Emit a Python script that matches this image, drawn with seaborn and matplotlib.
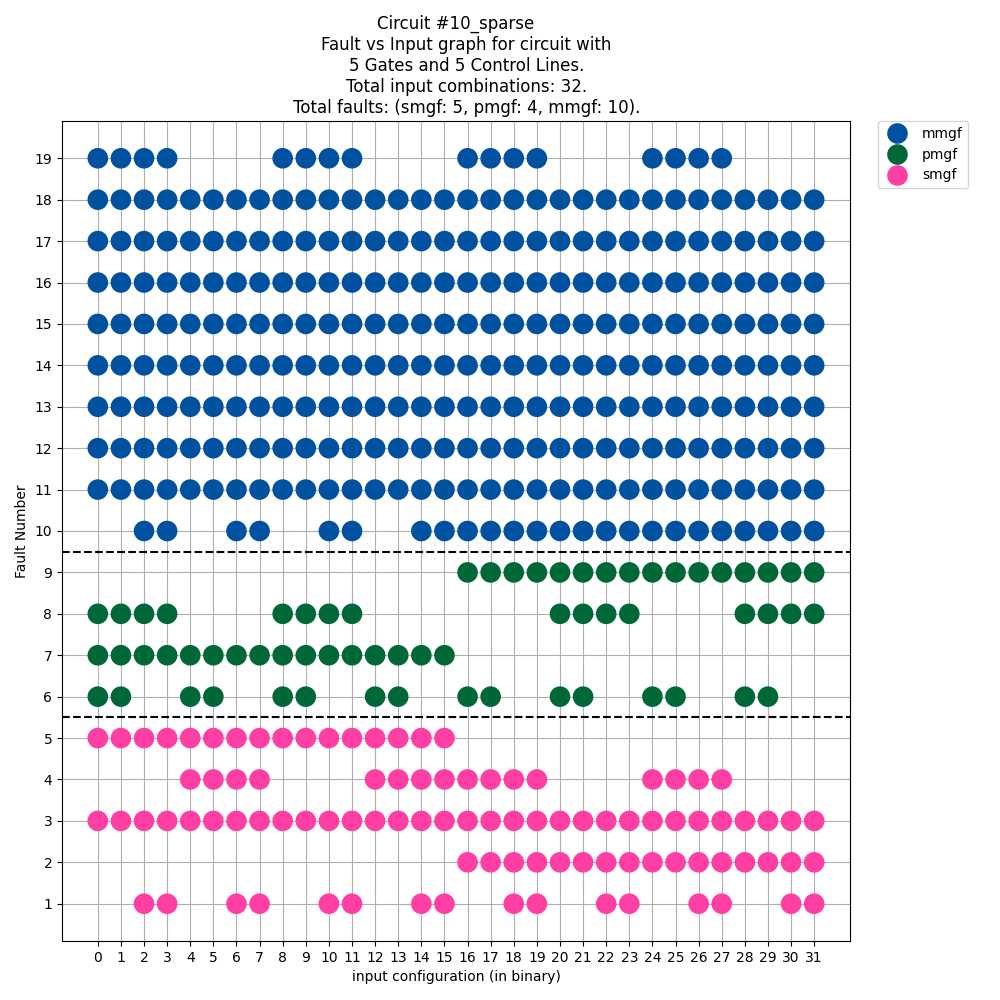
import matplotlib
matplotlib.use("Agg")
import matplotlib.pyplot as plt
import pandas as pd
import seaborn as sns

# fault number -> input configurations where the fault is detected
mmgf_faults = {
    19: [0, 1, 2, 3, 8, 9, 10, 11, 16, 17, 18, 19, 24, 25, 26, 27],
    18: list(range(32)),
    17: list(range(32)),
    16: list(range(32)),
    15: list(range(32)),
    14: list(range(32)),
    13: list(range(32)),
    12: list(range(32)),
    11: list(range(32)),
    10: [2, 3, 6, 7, 10, 11] + list(range(14, 32)),
}
pmgf_faults = {
    9: list(range(16, 32)),
    8: [0, 1, 2, 3, 8, 9, 10, 11, 20, 21, 22, 23, 28, 29, 30, 31],
    7: list(range(16)),
    6: [0, 1, 4, 5, 8, 9, 12, 13, 16, 17, 20, 21, 24, 25, 28, 29],
}
smgf_faults = {
    5: list(range(16)),
    4: [4, 5, 6, 7, 12, 13, 14, 15, 16, 17, 18, 19, 24, 25, 26, 27],
    3: list(range(32)),
    2: list(range(16, 32)),
    1: [2, 3, 6, 7, 10, 11, 14, 15, 18, 19, 22, 23, 26, 27, 30, 31],
}
fault_types = ["mmgf", "pmgf", "smgf"]
type_colors = ["#0051A0", "#006837", "#FF3FA4"]
separators = [9.5, 5.5]
x_ticks = list(range(32))
y_ticks = list(range(1, 20))

rows = []
for name, faults in zip(fault_types, [mmgf_faults, pmgf_faults, smgf_faults]):
    for fault, inputs in faults.items():
        for inp in inputs:
            rows.append({"input": inp, "fault": fault, "type": name})
df = pd.DataFrame(rows)

sns.set_style("ticks", rc={"text.color": "black", "axes.labelcolor": "black",
                           "xtick.color": "black", "ytick.color": "black"})
fig, ax = plt.subplots(figsize=(10, 10), dpi=100)
fig.subplots_adjust(left=0.062, right=0.85, top=0.879, bottom=0.059)

sns.scatterplot(data=df, x="input", y="fault", hue="type", hue_order=fault_types,
                palette=type_colors, s=220, linewidth=0, ax=ax, zorder=3)

for y in separators:
    ax.axhline(y, color="black", linestyle="--", linewidth=1.5, zorder=4)

ax.set_xticks(x_ticks)
ax.set_yticks(y_ticks)
ax.grid(True, color="#b0b0b0", linewidth=0.8)
ax.set_axisbelow(True)
for spine in ax.spines.values():
    spine.set_visible(True)
    spine.set_color("black")
ax.set_xlabel("input configuration (in binary)")
ax.set_ylabel("Fault Number")
ax.set_title("Circuit #10_sparse\n    Fault vs Input graph for circuit with\n"
             "    5 Gates and 5 Control Lines.\n    Total input combinations: 32.\n"
             "    Total faults: (smgf: 5, pmgf: 4, mmgf: 10).", fontsize=12)
ax.legend(bbox_to_anchor=(1.035, 1), loc="upper left", borderaxespad=0)

fig.savefig("out.png", dpi=100)
